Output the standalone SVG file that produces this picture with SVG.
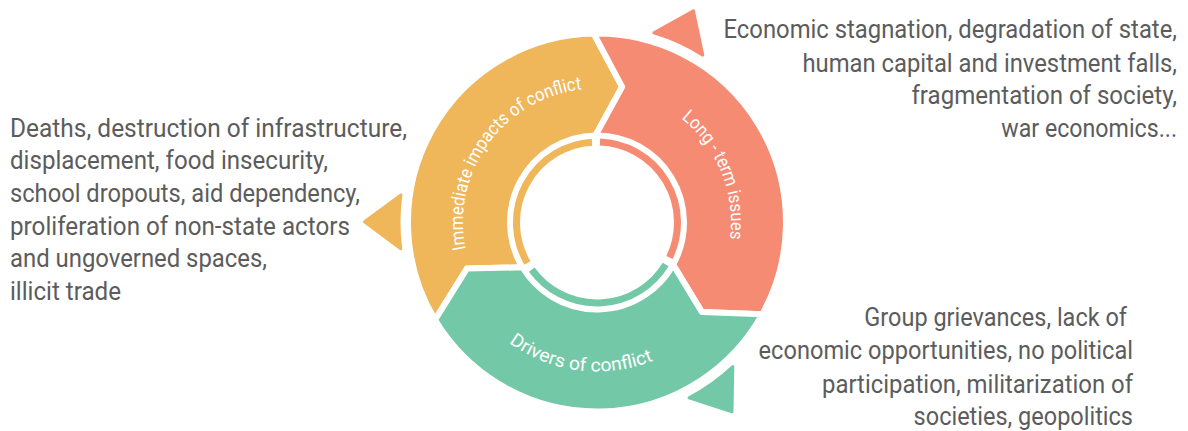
<svg xmlns="http://www.w3.org/2000/svg" width="1188" height="431" viewBox="0 0 1188 431">
  <style>
    .band { stroke: #ffffff; stroke-width: 6; stroke-linejoin: round; }
    .ring { fill: none; stroke-width: 7; }
    .tip { stroke-width: 3; stroke-linejoin: round; }
    .orange { fill: #F0B65A; stroke: #F0B65A; }
    .red { fill: #F58B73; stroke: #F58B73; }
    .green { fill: #73C8A8; stroke: #73C8A8; }
    .band.orange, .band.red, .band.green { stroke: #ffffff; }
    .ring.orange, .ring.red, .ring.green { fill: none; }
    .label { font-family: Roboto, "Liberation Sans", sans-serif; font-size: 18.5px; fill: #ffffff; }
    .desc { font-family: Roboto, "Liberation Sans", sans-serif; font-size: 25px; fill: #5c5c5c; }
    .right { text-anchor: end; }
  </style>
  <defs>
    <path id="arc-immediate" d="M500.61,315.58 A134,134 0 0 1 655.74,102.06"/>
    <path id="arc-longterm" d="M573.73,90.54 A134,134 0 0 1 671.93,333.59"/>
    <path id="arc-drivers" d="M449.45,243.24 A149,149 0 0 0 735.15,278.32"/>
  </defs>

  <rect width="1188" height="431" fill="#ffffff"/>

  <!-- cycle segments: chevron bands, inner arcs and outer arrow tips -->
  <g id="immediate-impacts">
    <path class="band orange" d="M435.00,319.84 A189,189 0 0 1 593.70,33.53 L622.15,86.81 L595.48,135.51 A87,87 0 0 0 522.43,267.31 L466.92,268.57 Z"/>
    <path class="ring orange" d="M527.38,262.93 A80.5,80.5 0 0 1 592.02,142.15"/>
    <path class="tip orange" d="M400.74,248.69 L364.50,221.69 L400.93,194.94 A198,198 0 0 0 400.74,248.69 Z"/>
    <text class="label"><textPath href="#arc-immediate" startOffset="50%" text-anchor="middle" textLength="222" lengthAdjust="spacingAndGlyphs">Immediate impacts of conflict</textPath></text>
  </g>

  <g id="long-term-issues">
    <path class="band red" d="M593.70,33.53 A189,189 0 0 1 762.30,314.13 L701.94,312.12 L673.09,264.68 A87,87 0 0 0 595.48,135.51 L622.15,86.81 Z"/>
    <path class="ring red" d="M600.02,142.06 A80.5,80.5 0 0 1 669.51,257.47"/>
    <path class="tip red" d="M653.90,32.85 L693.42,10.93 L702.80,55.14 A198,198 0 0 0 653.90,32.85 Z"/>
    <text class="label"><textPath href="#arc-longterm" startOffset="50%" text-anchor="middle" textLength="136" lengthAdjust="spacingAndGlyphs">Long - term issues</textPath></text>
  </g>

  <g id="drivers-of-conflict">
    <path class="band green" d="M762.30,314.13 A189,189 0 0 1 435.00,319.84 L466.92,268.57 L522.43,267.31 A87,87 0 0 0 673.09,264.68 L701.94,312.12 Z"/>
    <path class="ring green" d="M665.67,264.50 A80.5,80.5 0 0 1 531.75,269.65"/>
    <path class="tip green" d="M732.81,366.58 L732.01,411.78 L689.04,397.81 A198,198 0 0 0 732.81,366.58 Z"/>
    <text class="label"><textPath href="#arc-drivers" startOffset="50%" text-anchor="middle" textLength="152" lengthAdjust="spacingAndGlyphs">Drivers of conflict</textPath></text>
  </g>

  <!-- descriptions -->
  <g id="immediate-impacts-text" class="desc">
    <text x="10" y="136.7" textLength="397" lengthAdjust="spacingAndGlyphs">Deaths, destruction of infrastructure,</text>
    <text x="10" y="169.3" textLength="318" lengthAdjust="spacingAndGlyphs">displacement, food insecurity,</text>
    <text x="10" y="202" textLength="350" lengthAdjust="spacingAndGlyphs">school dropouts, aid dependency,</text>
    <text x="10" y="234.6" textLength="340" lengthAdjust="spacingAndGlyphs">proliferation of non-state actors</text>
    <text x="10" y="267.3" textLength="257" lengthAdjust="spacingAndGlyphs">and ungoverned spaces,</text>
    <text x="10" y="300" textLength="111" lengthAdjust="spacingAndGlyphs">illicit trade</text>
  </g>

  <g id="long-term-issues-text" class="desc right">
    <text x="1177" y="38.3" textLength="453.5" lengthAdjust="spacingAndGlyphs">Economic stagnation, degradation of state,</text>
    <text x="1177" y="71.5" textLength="374.5" lengthAdjust="spacingAndGlyphs">human capital and investment falls,</text>
    <text x="1177" y="104" textLength="265.5" lengthAdjust="spacingAndGlyphs">fragmentation of society,</text>
    <text x="1177" y="136.7" textLength="175.7" lengthAdjust="spacingAndGlyphs">war economics...</text>
  </g>

  <g id="drivers-of-conflict-text" class="desc right">
    <text x="1127" y="326" textLength="262.7" lengthAdjust="spacingAndGlyphs">Group grievances, lack of</text>
    <text x="1133" y="359.3" textLength="374.4" lengthAdjust="spacingAndGlyphs">economic opportunities, no political</text>
    <text x="1133" y="392.7" textLength="311" lengthAdjust="spacingAndGlyphs">participation, militarization of</text>
    <text x="1133" y="425" textLength="219.4" lengthAdjust="spacingAndGlyphs">societies, geopolitics</text>
  </g>

  <!-- no separate connectors: the cycle arrows are part of each segment -->
  <g id="connectors"/>
</svg>
